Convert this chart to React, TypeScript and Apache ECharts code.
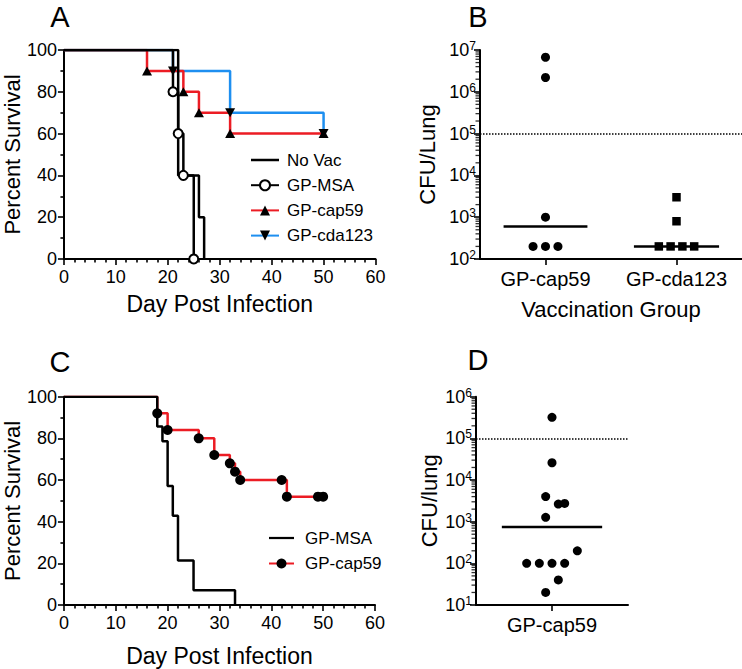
import React, { useEffect, useRef } from 'react';
import * as echarts from 'echarts';

const FONT = '"Liberation Sans", Arial, Helvetica, sans-serif';
const RED = '#ec1c24';
const BLUE = '#1e8ff0';

// ---- Panel A: survival (day, percent) ----
const noVacA = [[0, 100], [22, 40], [26, 20], [27, 0]];
const msaA = [[0, 100], [21, 80], [22, 60], [23, 40], [25, 0]];
const cap59A = [[0, 100], [16, 90], [23, 80], [26, 70], [32, 60], [50, 60]];
const cda123A = [[0, 100], [21, 90], [32, 70], [50, 60]];

// ---- Panel C: survival ----
const msaC = [[0, 100], [18, 85.7], [19, 78.6], [20, 57.1], [21, 42.9], [22, 21.4], [25, 7.1], [33, 0]];
const cap59C = [[0, 100], [18, 92], [20, 84], [26, 80], [29, 72], [32, 68], [33, 64], [34, 60], [42, 60], [43, 52], [49, 52], [50, 52]];

// ---- Panel B: CFU per lung ----
const groupsB = ['GP-cap59', 'GP-cda123'];
const cap59B = [6.7e6, 2.2e6, 1000, 200, 200, 200];
const cap59BJitter = [0, 0, 0, -0.19, 0, 0.19];
const cda123B = [3000, 800, 200, 200, 200, 200];
const cda123BJitter = [0, 0, -0.27, -0.09, 0.09, 0.27];
const mediansB = [600, 200];
const thresholdB = 1e5;

// ---- Panel D: CFU per lung ----
const groupsD = ['GP-cap59'];
const cap59D = [3.2e5, 2.6e4, 4000, 2650, 2750, 1270, 200, 100, 100, 100, 100, 40, 20];
const cap59DJitter = [0, 0, -1 / 12, 1 / 12, 2 / 12, -1 / 12, 4 / 12, -4 / 12, -2 / 12, 0, 2 / 12, 1 / 12, -1 / 12];
const medianD = 750;
const thresholdD = 1e5;

// log-axis minor tick positions (2..9 within each decade)
const minorMultipliers = [2, 3, 4, 5, 6, 7, 8, 9];
const decadesB = [2, 3, 4, 5, 6];
const decadesD = [1, 2, 3, 4, 5];

const stepData = (pts: number[][]) =>
  pts.map((p, i) => (i === 0 ? { value: p, symbol: 'none' } : { value: p }));

const axisLineStyle = { lineStyle: { color: '#000', width: 2 } };
const tickStyle = { length: 6, lineStyle: { color: '#000', width: 1.6 } };

const valueXAxis = (gridIndex: number, nameGap: number) => ({
  type: 'value', gridIndex, min: 0, max: 60, interval: 10,
  axisLine: { show: true, onZero: false, ...axisLineStyle },
  axisTick: { show: true, ...tickStyle },
  minorTick: { show: true, splitNumber: 5, length: 3.5, lineStyle: { color: '#000', width: 1.6 } },
  splitLine: { show: false },
  axisLabel: { fontSize: 18, color: '#000', margin: 9, fontFamily: FONT },
  name: 'Day Post Infection', nameLocation: 'middle', nameGap,
  nameTextStyle: { fontSize: 23, color: '#000', fontFamily: FONT },
});

const pctYAxis = (gridIndex: number) => ({
  type: 'value', gridIndex, min: 0, max: 100, interval: 20,
  axisLine: { show: true, onZero: false, ...axisLineStyle },
  axisTick: { show: true, ...tickStyle },
  minorTick: { show: true, splitNumber: 2, length: 3.5, lineStyle: { color: '#000', width: 1.6 } },
  splitLine: { show: false },
  axisLabel: { fontSize: 18, color: '#000', margin: 7, fontFamily: FONT },
  name: 'Percent Survival', nameLocation: 'middle', nameRotate: 90, nameGap: 35,
  nameTextStyle: { fontSize: 22, color: '#000', fontFamily: FONT },
});

const logYAxis = (gridIndex: number, min: number, max: number, name: string, nameGap: number) => ({
  type: 'log', logBase: 10, gridIndex, min, max,
  axisLine: { show: true, onZero: false, ...axisLineStyle },
  axisTick: { show: true, ...tickStyle },
  splitLine: { show: false },
  axisLabel: {
    margin: 4,
    formatter: (v: number) => `{b|10}{s|${Math.round(Math.log10(v))}}`,
    rich: {
      b: { fontSize: 18, lineHeight: 20, color: '#000', fontFamily: FONT },
      s: { fontSize: 12, lineHeight: 8, verticalAlign: 'top', color: '#000', fontFamily: FONT },
    },
  },
  name, nameLocation: 'middle', nameRotate: 90, nameGap,
  nameTextStyle: { fontSize: 22, color: '#000', fontFamily: FONT },
});

const catXAxis = (gridIndex: number, data: string[], name?: string) => ({
  type: 'category', gridIndex, data,
  axisLine: { show: true, onZero: false, ...axisLineStyle },
  axisTick: { show: true, alignWithLabel: true, interval: 0, ...tickStyle },
  axisLabel: { fontSize: 20, color: '#000', margin: 10, interval: 0, fontFamily: FONT },
  ...(name ? {
    name, nameLocation: 'middle', nameGap: 39,
    nameTextStyle: { fontSize: 22, color: '#000', fontFamily: FONT },
  } : {}),
});

// minor ticks of the log axes, drawn as short dashes through the axis scale
const minorTickSeries = (xAxisIndex: number, yAxisIndex: number, decades: number[]) => ({
  type: 'scatter', xAxisIndex, yAxisIndex, silent: true, clip: false, z: 5,
  symbol: 'rect', symbolSize: [4.5, 1.3], symbolOffset: [-2.25, 0],
  itemStyle: { color: '#000' },
  data: decades.flatMap((e) => minorMultipliers.map((m) => [0, m * Math.pow(10, e)])),
});

const dotted = (value: number) => ({
  silent: true, symbol: ['none', 'none'], label: { show: false },
  lineStyle: { type: 'dotted', color: '#000', width: 1.5 },
  data: [{ yAxis: value }],
});

const medianLine = (xAxisIndex: number, yAxisIndex: number, center: number, half: number, value: number) => ({
  type: 'line', xAxisIndex, yAxisIndex, symbol: 'none', silent: true,
  lineStyle: { color: '#000', width: 2.5 },
  data: [[center - half, value], [center + half, value]],
});

const DOWN_TRI = 'path://M0,0L10,0L5,9Z';
const LINE_ICON = 'path://M0,0H28V2.5H0Z';

const letter = (text: string, x: number, y: number) => ({
  type: 'text', x, y,
  style: { text, fontSize: 29, fontFamily: FONT, fill: '#000', align: 'center', verticalAlign: 'middle' },
});

export default function App() {
  const ref = useRef<HTMLDivElement>(null);
  useEffect(() => {
    if (!ref.current) return;
    const chart = echarts.init(ref.current, undefined, { renderer: 'svg' });
    const option: any = {
      animation: false,
      backgroundColor: '#fff',
      textStyle: { fontFamily: FONT, color: '#000' },
      grid: [
        { left: 61.5, top: 50, width: 314, height: 209 },
        { left: 480, top: 50, width: 262, height: 209 },
        { left: 61.5, top: 396.7, width: 313.5, height: 208.3 },
        { left: 476, top: 396.7, width: 152, height: 208.3 },
      ],
      xAxis: [
        valueXAxis(0, 33),
        catXAxis(1, groupsB, 'Vaccination Group'),
        { type: 'value', gridIndex: 1, min: 0, max: 4, show: false },
        valueXAxis(2, 39),
        catXAxis(3, groupsD),
        { type: 'value', gridIndex: 3, min: 0, max: 2, show: false },
      ],
      yAxis: [
        pctYAxis(0),
        logYAxis(1, 1e2, 1e7, 'CFU/Lung', 42),
        pctYAxis(2),
        logYAxis(3, 1e1, 1e6, 'CFU/lung', 36),
      ],
      legend: [
        {
          orient: 'vertical', left: 245, top: 145, itemWidth: 28, itemHeight: 12.5, itemGap: 5.2,
          selectedMode: false, formatter: (n: string) => n.slice(2),
          textStyle: { fontSize: 17, color: '#000', lineHeight: 20, fontFamily: FONT, padding: [0, 0, 0, 3] },
          data: [
            { name: 'A:No Vac', icon: LINE_ICON, itemStyle: { color: '#000' } },
            'A:GP-MSA', 'A:GP-cap59', 'A:GP-cda123',
          ],
        },
        {
          orient: 'vertical', left: 263, top: 523, itemWidth: 25, itemHeight: 12.5, itemGap: 5.5,
          selectedMode: false, formatter: (n: string) => n.slice(2),
          textStyle: { fontSize: 17, color: '#000', lineHeight: 20, fontFamily: FONT, padding: [0, 0, 0, 6] },
          data: [
            { name: 'C:GP-MSA', icon: LINE_ICON, itemStyle: { color: '#000' } },
            'C:GP-cap59',
          ],
        },
      ],
      graphic: [letter('A', 60, 17), letter('B', 478, 17), letter('C', 60, 362), letter('D', 478, 360)],
      series: [
        // Panel A
        {
          name: 'A:GP-cda123', type: 'line', xAxisIndex: 0, yAxisIndex: 0, step: 'end',
          data: stepData(cda123A), symbol: DOWN_TRI, symbolSize: [10, 9],
          itemStyle: { color: '#000' }, lineStyle: { color: BLUE, width: 2.5 },
        },
        {
          name: 'A:GP-cap59', type: 'line', xAxisIndex: 0, yAxisIndex: 0, step: 'end',
          data: stepData(cap59A), symbol: 'triangle', symbolSize: [10, 9],
          itemStyle: { color: '#000' }, lineStyle: { color: RED, width: 2.5 },
        },
        {
          name: 'A:GP-MSA', type: 'line', xAxisIndex: 0, yAxisIndex: 0, step: 'end',
          data: stepData(msaA), symbol: 'emptyCircle', symbolSize: 9,
          itemStyle: { color: '#000', borderWidth: 1.5 }, lineStyle: { color: '#000', width: 2.5 },
        },
        {
          name: 'A:No Vac', type: 'line', xAxisIndex: 0, yAxisIndex: 0, step: 'end',
          data: noVacA, symbol: 'none',
          itemStyle: { color: '#000' }, lineStyle: { color: '#000', width: 2.5 },
        },
        // Panel B
        {
          name: 'B:GP-cap59', type: 'scatter', xAxisIndex: 2, yAxisIndex: 1,
          data: cap59B.map((v, i) => [1 + cap59BJitter[i], v]),
          symbol: 'circle', symbolSize: 9, itemStyle: { color: '#000', opacity: 1 },
          markLine: dotted(thresholdB),
        },
        {
          name: 'B:GP-cda123', type: 'scatter', xAxisIndex: 2, yAxisIndex: 1,
          data: cda123B.map((v, i) => [3 + cda123BJitter[i], v]),
          symbol: 'rect', symbolSize: 8.5, itemStyle: { color: '#000', opacity: 1 },
        },
        medianLine(2, 1, 1, 0.64, mediansB[0]),
        medianLine(2, 1, 3, 0.65, mediansB[1]),
        minorTickSeries(2, 1, decadesB),
        // Panel C
        {
          name: 'C:GP-cap59', type: 'line', xAxisIndex: 3, yAxisIndex: 2, step: 'end',
          data: stepData(cap59C), symbol: 'circle', symbolSize: 10,
          itemStyle: { color: '#000' }, lineStyle: { color: RED, width: 2.5 },
        },
        {
          name: 'C:GP-MSA', type: 'line', xAxisIndex: 3, yAxisIndex: 2, step: 'end',
          data: msaC, symbol: 'none',
          itemStyle: { color: '#000' }, lineStyle: { color: '#000', width: 2.5 },
        },
        // Panel D
        {
          name: 'D:GP-cap59', type: 'scatter', xAxisIndex: 5, yAxisIndex: 3,
          data: cap59D.map((v, i) => [1 + cap59DJitter[i], v]),
          symbol: 'circle', symbolSize: 9, itemStyle: { color: '#000', opacity: 1 },
          markLine: dotted(thresholdD),
        },
        medianLine(5, 3, 1, 0.66, medianD),
        minorTickSeries(5, 3, decadesD),
      ],
    };
    chart.setOption(option);
    return () => chart.dispose();
  }, []);
  return (
    <div
      ref={ref}
      style={{ position: 'absolute', left: 0, top: 0, width: 742, height: 669, background: '#fff' }}
    />
  );
}
